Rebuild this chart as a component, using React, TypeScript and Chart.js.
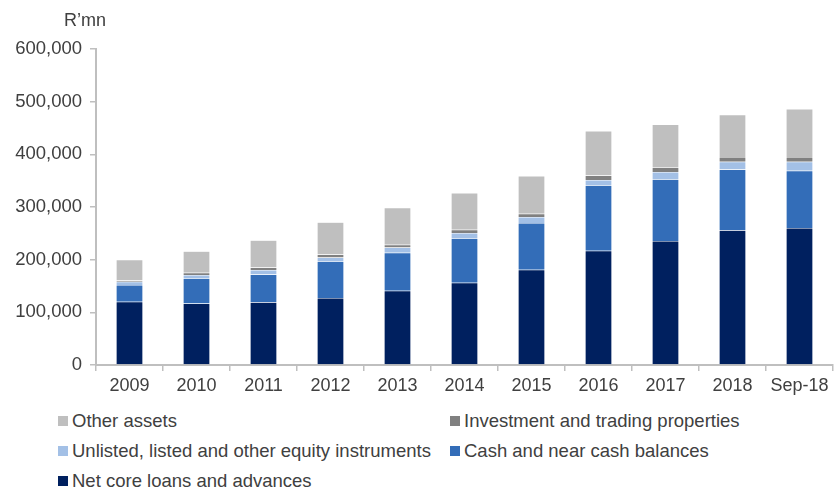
import React, { useEffect, useRef } from "react";
import { Chart, registerables } from "chart.js";

Chart.register(...registerables);

const categories = ["2009", "2010", "2011", "2012", "2013", "2014", "2015", "2016", "2017", "2018", "Sep-18"];
const netCoreLoans = [120000, 117000, 119000, 127000, 141000, 156000, 181000, 217000, 235500, 256000, 260000];
const cashBalances = [32000, 47500, 53000, 70000, 72000, 84500, 88500, 124500, 117000, 115000, 109000];
const equityInstruments = [6000, 6500, 8500, 7000, 10000, 10000, 11500, 10000, 14000, 15000, 17000];
const investmentProperties = [2500, 4000, 4500, 6000, 5500, 6500, 6000, 8500, 9000, 9000, 9000];
const otherAssets = [39500, 41000, 52000, 61000, 70000, 69500, 72000, 84500, 81000, 80000, 91000];
const yTicks = [0, 100000, 200000, 300000, 400000, 500000, 600000];

const FONT = "'Liberation Sans', Arial, sans-serif";
const TEXT = "#404040";
const AXIS = "#BFBFBF";

const series = [
  { label: "Net core loans and advances", data: netCoreLoans, color: "#00205F" },
  { label: "Cash and near cash balances", data: cashBalances, color: "#336DB8" },
  { label: "Unlisted, listed and other equity instruments", data: equityInstruments, color: "#A3C0E6" },
  { label: "Investment and trading properties", data: investmentProperties, color: "#808080" },
  { label: "Other assets", data: otherAssets, color: "#BFBFBF" },
];

const legendItems = [
  { label: "Other assets", color: "#BFBFBF", x: 58, y: 421 },
  { label: "Investment and trading properties", color: "#808080", x: 450, y: 421 },
  { label: "Unlisted, listed and other equity instruments", color: "#A3C0E6", x: 58, y: 451 },
  { label: "Cash and near cash balances", color: "#336DB8", x: 450, y: 451 },
  { label: "Net core loans and advances", color: "#00205F", x: 58, y: 481 },
];

export default function App() {
  const ref = useRef<HTMLCanvasElement | null>(null);

  useEffect(() => {
    if (!ref.current) return;
    const chart = new Chart(ref.current, {
      type: "bar",
      data: {
        labels: categories,
        datasets: series.map((s) => ({
          label: s.label,
          data: s.data,
          backgroundColor: s.color,
          borderColor: "rgba(255,255,255,0.4)",
          borderWidth: 0.5,
          categoryPercentage: 1,
          barPercentage: 0.4,
        })),
      },
      options: {
        animation: false,
        responsive: false,
        devicePixelRatio: 1,
        layout: { padding: { top: 49, right: 3, left: 0, bottom: 0 } },
        plugins: { legend: { display: false }, tooltip: { enabled: false } },
        scales: {
          x: {
            stacked: true,
            grid: {
              display: true,
              drawOnChartArea: false,
              drawTicks: true,
              tickLength: 6,
              color: AXIS,
              lineWidth: 1.5,
              offset: true,
            },
            border: { display: true, color: AXIS, width: 2 },
            ticks: {
              color: TEXT,
              font: { family: FONT, size: 18 },
              padding: 4,
              maxRotation: 0,
              autoSkip: false,
            },
            afterFit: (scale: any) => {
              scale.height = 35;
            },
          },
          y: {
            stacked: true,
            min: 0,
            max: 600000,
            afterBuildTicks: (scale: any) => {
              scale.ticks = yTicks.map((v) => ({ value: v }));
            },
            grid: {
              display: true,
              drawOnChartArea: false,
              drawTicks: true,
              tickLength: 6,
              color: AXIS,
              lineWidth: 1.5,
            },
            border: { display: true, color: AXIS, width: 2 },
            ticks: {
              color: TEXT,
              font: { family: FONT, size: 18.5 },
              padding: 8,
              callback: (v: any) => Number(v).toLocaleString("en-US"),
            },
            afterFit: (scale: any) => {
              scale.width = 96;
            },
          },
        },
      },
    });
    return () => chart.destroy();
  }, []);

  return (
    <div style={{ position: "absolute", left: 0, top: 0, width: 836, height: 492, background: "#fff", fontFamily: FONT, color: TEXT }}>
      <canvas ref={ref} width={836} height={400} style={{ position: "absolute", left: 0, top: 0, width: 836, height: 400 }} />
      <div style={{ position: "absolute", left: 64, top: 20, transform: "translateY(-50%)", fontSize: 18, lineHeight: "20px", whiteSpace: "nowrap" }}>
        R’mn
      </div>
      {legendItems.map((it) => (
        <div key={it.label} style={{ position: "absolute", left: it.x, top: it.y, transform: "translateY(-50%)", display: "flex", alignItems: "center", fontSize: 18.5, lineHeight: "20px", whiteSpace: "nowrap" }}>
          <span style={{ display: "inline-block", width: 10, height: 10, background: it.color, marginRight: 4 }} />
          <span>{it.label}</span>
        </div>
      ))}
    </div>
  );
}
